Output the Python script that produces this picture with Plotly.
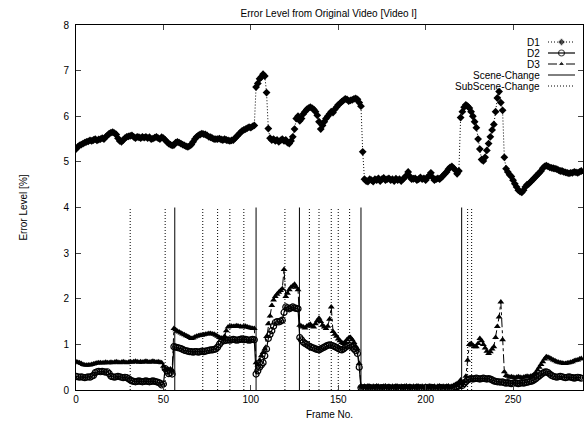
import plotly.graph_objects as go

# ---------------- data ----------------
frames = list(range(0, 290))

d1 = [
    5.28, 5.33, 5.36, 5.38, 5.40, 5.42, 5.44, 5.45, 5.47, 5.46,
    5.48, 5.50, 5.47, 5.49, 5.50, 5.52, 5.50, 5.55, 5.58, 5.62,
    5.64, 5.65, 5.63, 5.60, 5.52, 5.46, 5.44, 5.48, 5.52, 5.55,
    5.56, 5.57, 5.58, 5.55, 5.52, 5.55, 5.54, 5.52, 5.55, 5.53,
    5.55, 5.52, 5.54, 5.50, 5.51, 5.53, 5.55, 5.52, 5.50, 5.54,
    5.52, 5.48, 5.44, 5.40, 5.38, 5.36, 5.37, 5.42, 5.44, 5.42,
    5.40, 5.38, 5.36, 5.34, 5.33, 5.35, 5.38, 5.44, 5.50, 5.55,
    5.58, 5.60, 5.62, 5.61, 5.60, 5.58, 5.55, 5.54, 5.52, 5.50,
    5.50, 5.50, 5.51, 5.49, 5.48, 5.50, 5.48, 5.47, 5.46, 5.47,
    5.48, 5.52, 5.56, 5.60, 5.64, 5.68, 5.70, 5.72, 5.74, 5.76,
    5.75, 5.78, 5.80, 6.64, 6.72, 6.82, 6.86, 6.92, 6.88, 6.52,
    5.73, 5.52, 5.48, 5.50, 5.46, 5.48, 5.44, 5.47, 5.50, 5.46,
    5.48, 5.42, 5.40, 5.46, 5.55, 5.72, 5.95, 6.00, 5.90, 5.95,
    6.05, 6.10, 6.15, 6.18, 6.20, 6.18, 6.15, 6.10, 6.02, 5.88,
    5.72, 5.80, 5.88, 5.95, 6.00, 6.05, 6.10, 6.08, 6.15, 6.20,
    6.25, 6.28, 6.32, 6.35, 6.38, 6.37, 6.33, 6.35, 6.36, 6.38,
    6.39, 6.37, 6.30, 6.22, 5.22, 4.62, 4.58, 4.57, 4.62, 4.60,
    4.57, 4.62, 4.60, 4.64, 4.58, 4.62, 4.65, 4.60, 4.62, 4.64,
    4.60, 4.62, 4.58, 4.63, 4.60, 4.62, 4.58, 4.62, 4.66, 4.70,
    4.78, 4.68, 4.62, 4.63, 4.64, 4.60, 4.62, 4.66, 4.62, 4.64,
    4.60, 4.66, 4.70, 4.76, 4.66, 4.60, 4.62, 4.64, 4.62, 4.66,
    4.70, 4.74, 4.78, 4.84, 4.88, 4.90, 4.86, 4.82, 4.74, 4.80,
    5.97, 6.10, 6.20, 6.25, 6.22, 6.18, 6.10, 6.00, 5.88, 5.75,
    5.50, 5.28, 5.05, 5.02, 5.10, 5.25, 5.40, 5.55, 5.70, 5.82,
    6.10, 6.40, 6.54, 6.30, 6.13, 5.10, 4.85, 4.78, 4.72, 4.68,
    4.60, 4.52, 4.45, 4.38, 4.35, 4.33, 4.38, 4.45, 4.50, 4.52,
    4.56, 4.60, 4.64, 4.68, 4.72, 4.76, 4.80, 4.86, 4.90, 4.92,
    4.90, 4.88, 4.87, 4.86, 4.85, 4.84, 4.82, 4.80, 4.80, 4.78,
    4.77, 4.76, 4.75, 4.76, 4.76, 4.78, 4.77, 4.76, 4.78, 4.80,
]

d2 = [
    0.30, 0.29, 0.28, 0.29, 0.28, 0.27, 0.28, 0.29, 0.28, 0.30,
    0.32, 0.38, 0.40, 0.41, 0.40, 0.41, 0.40, 0.39, 0.40, 0.36,
    0.30, 0.29, 0.28, 0.29, 0.30, 0.29, 0.28, 0.27, 0.28, 0.27,
    0.25, 0.22, 0.20, 0.19, 0.18, 0.19, 0.20, 0.19, 0.18, 0.19,
    0.20, 0.19, 0.18, 0.19, 0.20, 0.19, 0.18, 0.17, 0.15, 0.11,
    0.13, 0.47, 0.42, 0.36, 0.38, 0.35, 0.95, 0.94, 0.93, 0.92,
    0.91, 0.89, 0.87, 0.86, 0.85, 0.84, 0.84, 0.83, 0.84, 0.84,
    0.83, 0.84, 0.85, 0.84, 0.85, 0.86, 0.87, 0.88, 0.88, 0.89,
    0.90, 0.94, 1.00, 1.05, 1.09, 1.08, 1.09, 1.10, 1.09, 1.10,
    1.11, 1.10, 1.09, 1.10, 1.11, 1.12, 1.10, 1.11, 1.10, 1.09,
    1.10, 1.11, 1.10, 0.35, 0.42, 0.50, 0.55, 0.60, 0.75, 0.90,
    1.13, 1.22, 1.30, 1.40, 1.48, 1.50, 1.49, 1.51, 1.53, 1.70,
    1.82, 1.80, 1.78, 1.80, 1.82, 1.80, 1.79, 1.78, 1.15, 1.10,
    1.05, 1.02, 1.00, 0.97, 0.95, 0.93, 0.92, 0.90, 0.89, 0.88,
    0.90, 0.92, 0.94, 0.96, 0.98, 0.99, 0.98, 0.97, 0.95, 0.93,
    0.91, 0.89, 0.88, 0.90, 0.93, 0.96, 0.98, 0.97, 0.94, 0.90,
    0.86, 0.80, 0.50, 0.05, 0.04, 0.05, 0.03, 0.04, 0.05, 0.04,
    0.03, 0.04, 0.05, 0.04, 0.03, 0.05, 0.04, 0.03, 0.04, 0.05,
    0.04, 0.03, 0.04, 0.05, 0.04, 0.04, 0.03, 0.05, 0.04, 0.03,
    0.04, 0.05, 0.04, 0.03, 0.04, 0.05, 0.04, 0.04, 0.03, 0.04,
    0.05, 0.04, 0.03, 0.04, 0.05, 0.04, 0.03, 0.04, 0.05, 0.04,
    0.04, 0.03, 0.05, 0.04, 0.03, 0.04, 0.05, 0.06, 0.07, 0.09,
    0.12, 0.10, 0.14, 0.18, 0.22, 0.24, 0.25, 0.24, 0.25, 0.26,
    0.25, 0.24, 0.25, 0.26, 0.25, 0.24, 0.25, 0.24, 0.22, 0.20,
    0.19, 0.18, 0.18, 0.17, 0.18, 0.16, 0.15, 0.16, 0.15, 0.14,
    0.15, 0.16, 0.15, 0.14, 0.15, 0.16, 0.15, 0.16, 0.17, 0.18,
    0.19, 0.20, 0.22, 0.25, 0.28, 0.31, 0.34, 0.37, 0.39, 0.40,
    0.38, 0.35, 0.32, 0.30, 0.29, 0.28, 0.29, 0.30, 0.29, 0.28,
    0.27, 0.28, 0.29, 0.28, 0.27, 0.26, 0.27, 0.28, 0.27, 0.26,
]

d3 = [
    0.62, 0.61, 0.60, 0.58, 0.56, 0.55, 0.54, 0.55, 0.55, 0.56,
    0.57, 0.58, 0.59, 0.60, 0.60, 0.59, 0.60, 0.61, 0.60, 0.60,
    0.61, 0.60, 0.61, 0.62, 0.61, 0.60, 0.61, 0.62, 0.61, 0.60,
    0.61, 0.62, 0.61, 0.62, 0.63, 0.62, 0.61, 0.62, 0.61, 0.62,
    0.63, 0.62, 0.61, 0.62, 0.63, 0.62, 0.61, 0.62, 0.61, 0.60,
    0.52, 0.46, 0.44, 0.45, 0.46, 0.44, 1.35, 1.32, 1.29, 1.27,
    1.25, 1.23, 1.21, 1.19, 1.17, 1.15, 1.13, 1.14, 1.16, 1.18,
    1.19, 1.20, 1.20, 1.21, 1.22, 1.23, 1.24, 1.24, 1.23, 1.22,
    1.20, 1.18, 1.15, 1.14, 1.13, 1.18, 1.30, 1.38, 1.39, 1.40,
    1.39, 1.40, 1.41, 1.40, 1.39, 1.38, 1.39, 1.40, 1.38, 1.37,
    1.36, 1.35, 1.35, 0.60, 0.55, 0.65, 0.75, 0.82, 0.90, 1.17,
    1.45, 1.62, 1.85, 1.97, 2.05, 2.10, 2.14, 2.18, 2.22, 2.64,
    2.05, 2.12, 2.20, 2.25, 2.28, 2.32, 2.25, 2.20, 1.42, 1.40,
    1.38, 1.36, 1.40, 1.42, 1.44, 1.40, 1.38, 1.45, 1.52, 1.57,
    1.50, 1.42, 1.38, 1.35, 1.40, 1.55, 1.82, 1.28, 1.22, 1.18,
    1.12, 1.08, 1.04, 1.02, 1.05, 1.10, 1.14, 1.15, 1.10, 1.04,
    0.96, 0.90, 0.58, 0.08, 0.06, 0.08, 0.07, 0.09, 0.08, 0.06,
    0.08, 0.07, 0.09, 0.08, 0.07, 0.06, 0.08, 0.09, 0.07, 0.08,
    0.06, 0.08, 0.07, 0.09, 0.08, 0.07, 0.08, 0.06, 0.08, 0.09,
    0.07, 0.08, 0.06, 0.08, 0.07, 0.09, 0.08, 0.07, 0.08, 0.06,
    0.08, 0.07, 0.09, 0.08, 0.07, 0.08, 0.06, 0.08, 0.09, 0.07,
    0.08, 0.07, 0.08, 0.09, 0.07, 0.08, 0.10, 0.12, 0.14, 0.16,
    0.22, 0.14, 0.18, 0.30, 0.65, 1.00, 1.02, 0.98, 0.95, 0.95,
    1.02, 1.13, 1.08, 1.00, 0.92, 0.85, 0.80, 0.84, 0.90, 0.95,
    1.15, 1.39, 1.60, 1.93, 1.10, 0.40, 0.32, 0.30, 0.28, 0.29,
    0.28, 0.27, 0.28, 0.29, 0.28, 0.27, 0.28, 0.29, 0.30, 0.29,
    0.30, 0.31, 0.34, 0.38, 0.44, 0.50, 0.56, 0.62, 0.68, 0.73,
    0.72, 0.70, 0.68, 0.66, 0.64, 0.62, 0.61, 0.60, 0.59, 0.58,
    0.58, 0.59, 0.60, 0.61, 0.62, 0.64, 0.65, 0.66, 0.68, 0.69,
]

scene_changes = [56.5, 103, 127.8, 163, 220.6]
subscene_changes = [31, 51, 72.5, 81, 88, 96, 119.5, 133.5, 139, 146, 150, 156.5, 224, 226.3]

x_ticks = [0, 50, 100, 150, 200, 250]
y_ticks = [0, 1, 2, 3, 4, 5, 6, 7, 8]

series_names = ["D1", "D2", "D3", "Scene-Change", "SubScene-Change"]

title_text = "Error Level from Original Video [Video I]"
x_title = "Frame No."
y_title = "Error Level [%]"

# ---------------- styling / layout constants ----------------
VLINE_TOP = 4
FONT = "Liberation Sans, Arial, Helvetica, sans-serif"
W, H = 587, 423
ML, MR, MT, MB = 76, 4, 25, 33
PW, PH = W - ML - MR, H - MT - MB

# legend geometry (pixels in the figure)
LEG_ROW0, LEG_ROW_STEP = 42, 11
LEG_TEXT_RIGHT = 542
LEG_SAMPLE_X0, LEG_SAMPLE_X1 = 548, 575


def fx(px):
    return (px - ML) / PW


def fy(py):
    return (MT + PH - py) / PH


styles = {
    "D1": dict(line=dict(color="black", width=1, dash="1px,2px"),
               marker=dict(symbol="diamond", size=6, color="black")),
    "D2": dict(line=dict(color="black", width=1.2, dash="solid"),
               marker=dict(symbol="circle-open", size=6, color="black", line=dict(width=1.2))),
    "D3": dict(line=dict(color="black", width=1, dash="dashdot"),
               marker=dict(symbol="triangle-up", size=6, color="black")),
    "Scene-Change": dict(line=dict(color="black", width=1, dash="solid")),
    "SubScene-Change": dict(line=dict(color="black", width=1, dash="1px,2px")),
}


def vsegments(xs):
    vx, vy = [], []
    for v in xs:
        vx += [v, v, None]
        vy += [0, VLINE_TOP, None]
    return vx, vy


fig = go.Figure()

sx, sy = vsegments(scene_changes)
ssx, ssy = vsegments(subscene_changes)

fig.add_trace(go.Scatter(x=sx, y=sy, mode="lines", name="Scene-Change",
                         showlegend=False, hoverinfo="skip", **styles["Scene-Change"]))
fig.add_trace(go.Scatter(x=ssx, y=ssy, mode="lines", name="SubScene-Change",
                         showlegend=False, hoverinfo="skip", **styles["SubScene-Change"]))

for name, vals in (("D1", d1), ("D2", d2), ("D3", d3)):
    fig.add_trace(go.Scatter(x=frames, y=vals, mode="lines+markers", name=name,
                             showlegend=False, **styles[name]))

# gnuplot-style key: label on the left, sample on the right
annotations = []
for i, name in enumerate(series_names):
    ry = fy(LEG_ROW0 + i * LEG_ROW_STEP)
    sxs = [fx(LEG_SAMPLE_X0), fx((LEG_SAMPLE_X0 + LEG_SAMPLE_X1) / 2), fx(LEG_SAMPLE_X1)]
    st = styles[name]
    if "marker" in st:
        mk = dict(st["marker"])
        mk["size"] = [0, st["marker"]["size"], 0]
        fig.add_trace(go.Scatter(x=sxs, y=[ry] * 3, mode="lines+markers", xaxis="x2", yaxis="y2",
                                 line=st["line"], marker=mk, showlegend=False, hoverinfo="skip"))
    else:
        fig.add_trace(go.Scatter(x=[sxs[0], sxs[2]], y=[ry, ry], mode="lines", xaxis="x2", yaxis="y2",
                                 line=st["line"], showlegend=False, hoverinfo="skip"))
    annotations.append(dict(text=name, xref="paper", yref="paper", x=fx(LEG_TEXT_RIGHT), y=ry,
                            xanchor="right", yanchor="middle", showarrow=False,
                            font=dict(size=10, color="black")))

fig.update_layout(
    width=W, height=H,
    margin=dict(l=ML, r=MR, t=MT, b=MB),
    paper_bgcolor="white", plot_bgcolor="white",
    font=dict(family=FONT, size=10, color="black"),
    title=dict(text=title_text, x=0.56, xanchor="center", y=1 - 13 / H, yanchor="middle",
               font=dict(size=10)),
    showlegend=False,
    annotations=annotations,
    xaxis=dict(
        range=[0, 290], tickvals=x_ticks, ticks="inside", ticklen=5,
        showline=True, linecolor="black", linewidth=1, mirror="ticks",
        showgrid=False, zeroline=False,
        title=dict(text=x_title, standoff=6, font=dict(size=10)),
    ),
    yaxis=dict(
        range=[0, 8], tickvals=y_ticks, ticks="inside", ticklen=5,
        showline=True, linecolor="black", linewidth=1, mirror="ticks",
        showgrid=False, zeroline=False, ticklabelstandoff=4,
        title=dict(text=y_title, standoff=33, font=dict(size=10)),
    ),
    xaxis2=dict(overlaying="x", range=[0, 1], visible=False, fixedrange=True, anchor="y2"),
    yaxis2=dict(overlaying="y", range=[0, 1], visible=False, fixedrange=True, anchor="x2"),
)

fig.write_html("out.html", config={"displayModeBar": False},
               post_script="document.body.style.margin='0px';")
